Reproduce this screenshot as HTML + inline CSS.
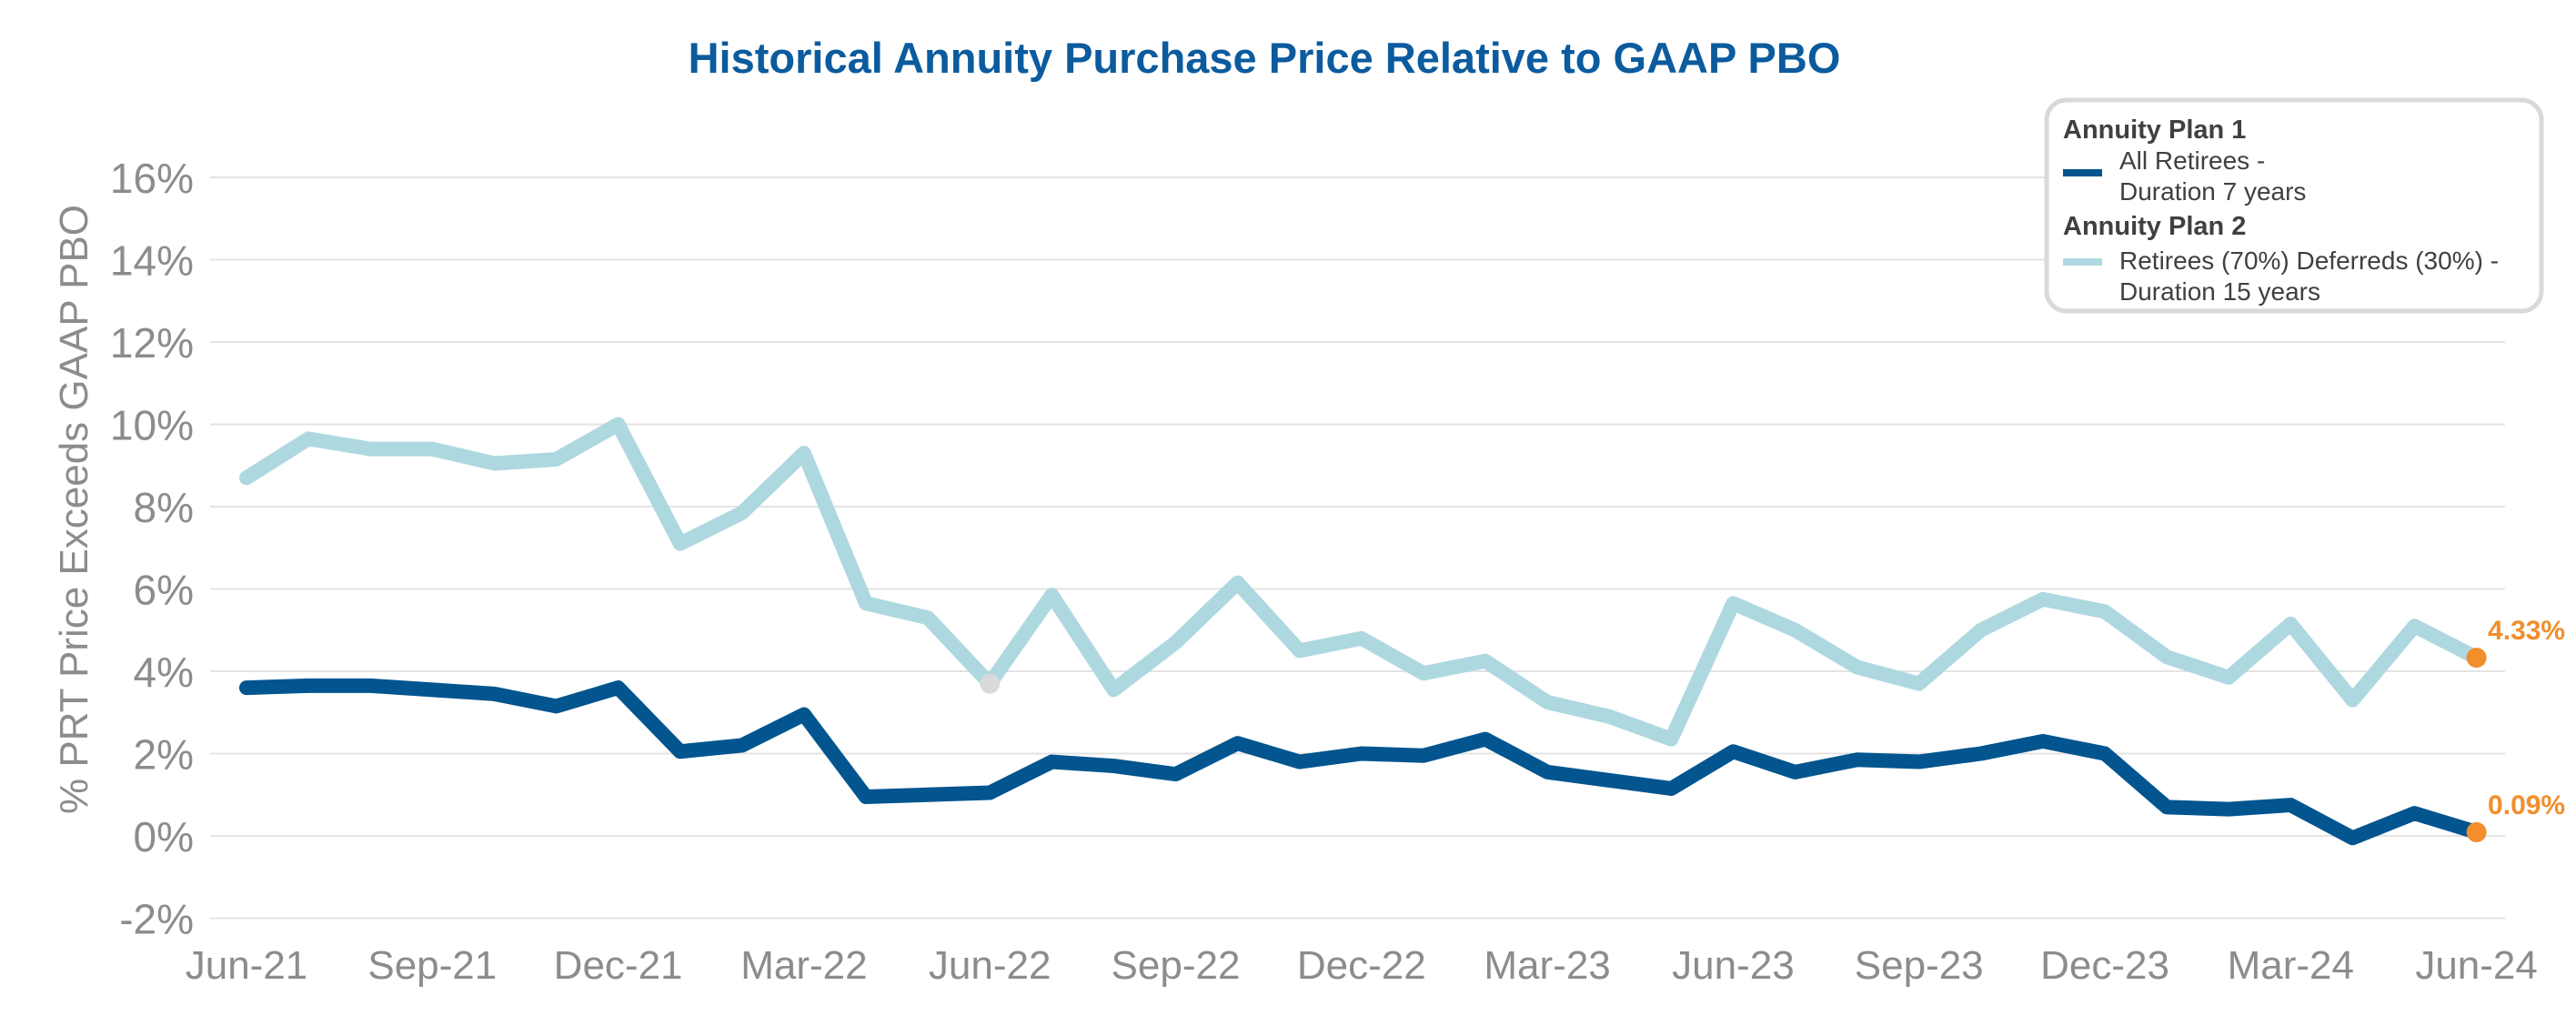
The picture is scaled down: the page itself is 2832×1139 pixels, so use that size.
<!DOCTYPE html>
<html><head><meta charset="utf-8"><style>
html,body{margin:0;padding:0;background:#fff;}
svg{display:block;font-family:"Liberation Sans",sans-serif;}
</style></head><body>
<svg id="chart" width="2832" height="1139" viewBox="0 0 2832 1139">
<text x="1390" y="80" text-anchor="middle" font-size="47" font-weight="bold" fill="#0b5b9e">Historical Annuity Purchase Price Relative to GAAP PBO</text>
<g id="grid"></g>
<g id="yticks"></g>
<g id="xticks"></g>
<text transform="translate(96,560) rotate(-90)" text-anchor="middle" font-size="44" fill="#8c8c8c">% PRT Price Exceeds GAAP PBO</text>
<g id="series"></g>
<g>
<rect x="2250" y="110" width="544" height="232" rx="22" fill="#fff" stroke="#d9d9d9" stroke-width="5"/>
<text x="2268" y="152" font-size="29" font-weight="bold" fill="#404040">Annuity Plan 1</text>
<rect x="2268" y="186" width="43" height="8" fill="#02558f"/>
<text x="2330" y="186" font-size="28" fill="#404040">All Retirees -</text>
<text x="2330" y="220" font-size="28" fill="#404040">Duration 7 years</text>
<text x="2268" y="258" font-size="29" font-weight="bold" fill="#404040">Annuity Plan 2</text>
<rect x="2268" y="284" width="43" height="8" fill="#aed8e0"/>
<text x="2330" y="296" font-size="28" fill="#404040">Retirees (70%) Deferreds (30%) -</text>
<text x="2330" y="330" font-size="28" fill="#404040">Duration 15 years</text>
</g>
</svg>
<script>
const yTickValues = [-2,0,2,4,6,8,10,12,14,16];
const xTickLabels = ["Jun-21","Sep-21","Dec-21","Mar-22","Jun-22","Sep-22","Dec-22","Mar-23","Jun-23","Sep-23","Dec-23","Mar-24","Jun-24"];
const plan1 = [3.6,3.65,3.65,3.55,3.45,3.15,3.6,2.05,2.2,2.95,0.95,1.0,1.05,1.8,1.7,1.5,2.25,1.8,2.0,1.95,2.35,1.55,1.35,1.15,2.05,1.55,1.85,1.8,2.0,2.3,2.0,0.7,0.65,0.75,-0.05,0.55,0.09];
const plan2 = [8.7,9.65,9.4,9.4,9.05,9.15,10.0,7.1,7.85,9.3,5.65,5.3,3.7,5.85,3.55,4.7,6.15,4.5,4.8,3.95,4.25,3.25,2.9,2.35,5.65,5.0,4.1,3.7,5.0,5.75,5.45,4.35,3.85,5.15,3.3,5.1,4.33];
const NS="http://www.w3.org/2000/svg";
const x0=271, dx=68.1, yZero=919, perPct=45.25;
const xs=i=>x0+i*dx;
const ys=v=>yZero-v*perPct;
function mk(tag,attrs,parent){const e=document.createElementNS(NS,tag);for(const k in attrs)e.setAttribute(k,attrs[k]);parent.appendChild(e);return e;}
const grid=document.getElementById('grid'),yt=document.getElementById('yticks'),xt=document.getElementById('xticks'),ser=document.getElementById('series');
yTickValues.forEach(v=>{
  const l=mk('line',{x1:231,x2:2754,y1:ys(v),y2:ys(v),stroke:'#e3e3e3','stroke-width':2},grid);
  
  
  const t=mk('text',{x:213,y:ys(v)+17,'text-anchor':'end','font-size':46,fill:'#8c8c8c'},yt);
  t.textContent=v+'%';
  
  
});
xTickLabels.forEach((s,i)=>{
  const t=mk('text',{x:xs(i*3),y:1076,'text-anchor':'middle','font-size':44,fill:'#8c8c8c'},xt);
  t.textContent=s;
  
  
});
function drawLine(arr,color,name){
  const p=mk('polyline',{points:arr.map((v,i)=>xs(i)+','+ys(v)).join(' '),fill:'none',stroke:color,'stroke-width':16,'stroke-linejoin':'round','stroke-linecap':'round'},ser);
  
  
}
drawLine(plan2,'#aed8e0','plan2-line');
drawLine(plan1,'#02558f','plan1-line');
const g=mk('circle',{cx:xs(12),cy:ys(plan2[12]),r:11,fill:'#d9d9d9'},ser);


[[plan2,'plan2'],[plan1,'plan1']].forEach(([arr,n])=>{
  const i=arr.length-1;
  const c=mk('circle',{cx:xs(i),cy:ys(arr[i]),r:11,fill:'#f28e2b'},ser);
  
  
  const t=mk('text',{x:xs(i)+55,y:ys(arr[i])-20,'text-anchor':'middle','font-size':30,'font-weight':'bold',fill:'#f28e2b'},ser);
  t.textContent=arr[i].toFixed(2)+'%';
  
  
});
</script>
</body></html>
